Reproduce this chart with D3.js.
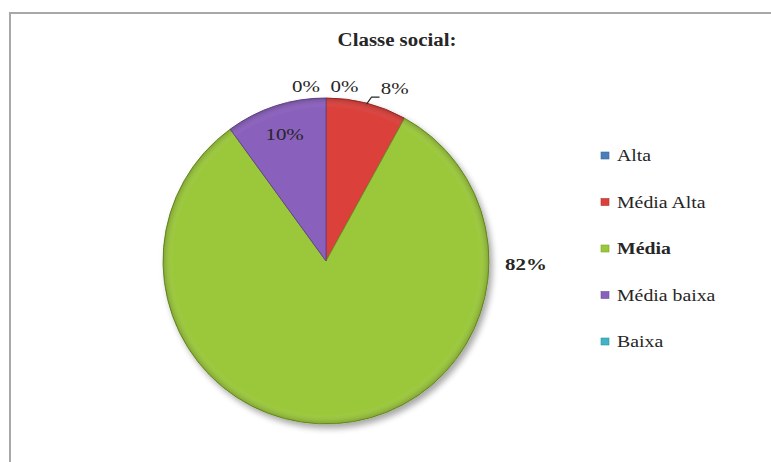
<!DOCTYPE html>
<html>
<head>
<meta charset="utf-8">
<script src="https://cdn.jsdelivr.net/npm/d3@7"></script>
<style>
  html, body { margin: 0; padding: 0; background: #ffffff; }
  svg { display: block; }
  text { font-family: "Liberation Serif", "Times New Roman", serif; fill: #262626; }
</style>
</head>
<body>
<svg id="chart" width="771" height="462"></svg>
<script>
// Survey answers: social class of respondents (percent)
const categories = ["Alta", "Média Alta", "Média", "Média baixa", "Baixa"];
const values = [0, 8, 82, 10, 0];
const valueLabels = ["0%", "8%", "82%", "10%", "0%"];
const colors = ["#4a7ebb", "#db403b", "#9bc83a", "#8a60bd", "#3fb3c7"];
const titleText = "Classe social:";

const svg = d3.select("#chart");
const W = 771, H = 462;

// Frame: only top and left edges fall inside the view
svg.append("path")
  .attr("d", `M10,${H + 5} L10,13 L${W + 5},13`)
  .attr("fill", "none")
  .attr("stroke", "#a8a8a8")
  .attr("stroke-width", 2);

const defs = svg.append("defs");
const shadow = defs.append("filter").attr("id", "shadow")
  .attr("x", "-20%").attr("y", "-20%").attr("width", "140%").attr("height", "140%");
shadow.append("feGaussianBlur").attr("in", "SourceAlpha").attr("stdDeviation", 3).attr("result", "b");
shadow.append("feOffset").attr("in", "b").attr("dx", 3).attr("dy", 4).attr("result", "o");
shadow.append("feComponentTransfer").attr("in", "o").attr("result", "s")
  .append("feFuncA").attr("type", "linear").attr("slope", 0.35);
const merge = shadow.append("feMerge");
merge.append("feMergeNode").attr("in", "s");
merge.append("feMergeNode").attr("in", "SourceGraphic");

// Slight bevel: darker rim at the outer edge of the pie
const bevel = defs.append("radialGradient").attr("id", "bevel")
  .attr("cx", "50%").attr("cy", "50%").attr("r", "50%");
bevel.append("stop").attr("offset", "0%").attr("stop-color", "#ffffff").attr("stop-opacity", 0.0);
bevel.append("stop").attr("offset", "94%").attr("stop-color", "#ffffff").attr("stop-opacity", 0.0);
bevel.append("stop").attr("offset", "100%").attr("stop-color", "#000000").attr("stop-opacity", 0.18);

// Text helper: the typeface is drawn slightly wide
function wideText(sel, x, y, str, size, sx, anchor, weight) {
  return sel.append("text")
    .attr("transform", `translate(${x},${y}) scale(${sx},1)`)
    .attr("text-anchor", anchor)
    .attr("font-family", "'Liberation Serif', 'Times New Roman', serif")
    .attr("font-size", size)
    .attr("font-weight", weight || "normal")
    .text(str);
}

// Title
wideText(svg, 397, 46, titleText, 18, 1.16, "middle", "bold");

// Pie
const cx = 326, cy = 261, R = 163;
const pie = d3.pie().sort(null).value(d => d)(values);
const arc = d3.arc().innerRadius(0).outerRadius(R);
const g = svg.append("g").attr("transform", `translate(${cx},${cy})`);

const slices = g.append("g").attr("filter", "url(#shadow)");
slices.selectAll("path.slice")
  .data(pie.filter(d => d.value > 0))
  .join("path")
  .attr("class", "slice")
  .attr("d", arc)
  .attr("fill", d => colors[d.index])
  .attr("stroke", d => d3.color(colors[d.index]).darker(0.9))
  .attr("stroke-width", 1);

g.append("circle").attr("r", R).attr("fill", "url(#bevel)").attr("pointer-events", "none");

// Data labels: placement per slice (angle in degrees from 12 o'clock, radius, text tweaks)
const labelLayout = [
  { angle: 6, radius: 176, dy: 6, weight: "normal" },                     // Alta
  { angle: 21.7, radius: 186, dy: 6, weight: "normal", leader: true },     // Média Alta
  { angle: 91, radius: 200, dy: 6, weight: "bold" },                       // Média
  { angle: -18, radius: 134, dy: 6, weight: "normal" },                    // Média baixa
  { angle: -6.5, radius: 176, dy: 6, weight: "normal" }                    // Baixa
];

const labels = svg.append("g").attr("transform", `translate(${cx},${cy})`);
pie.forEach((d, i) => {
  const L = labelLayout[i];
  const a = L.angle * Math.PI / 180;
  const x = L.radius * Math.sin(a), y = -L.radius * Math.cos(a);
  wideText(labels, x, y + L.dy, valueLabels[i], 16.5, 1.27, "middle", L.weight);
  if (L.leader) {
    const mid = (d.startAngle + d.endAngle) / 2;
    const p0 = [R * Math.sin(mid), -R * Math.cos(mid) + 1];
    const p1 = [p0[0] + 5, p0[1] - 7];
    const p2 = [p1[0] + 8, p1[1]];
    labels.append("path")
      .attr("d", d3.line()([p0, p1, p2]))
      .attr("fill", "none")
      .attr("stroke", "#262626")
      .attr("stroke-width", 1.1);
  }
});

// Legend
const legend = svg.append("g");
const lx = 601, ly0 = 161, lstep = 46.5;
categories.forEach((c, i) => {
  const y = ly0 + i * lstep;
  legend.append("rect")
    .attr("x", lx).attr("y", y - 9)
    .attr("width", 8).attr("height", 7)
    .attr("fill", colors[i])
    .attr("stroke", d3.color(colors[i]).darker(0.6))
    .attr("stroke-width", 0.6);
  wideText(legend, lx + 16, y, c, 16.5, 1.2, "start", c === "Média" ? "bold" : "normal");
});
</script>
</body>
</html>
